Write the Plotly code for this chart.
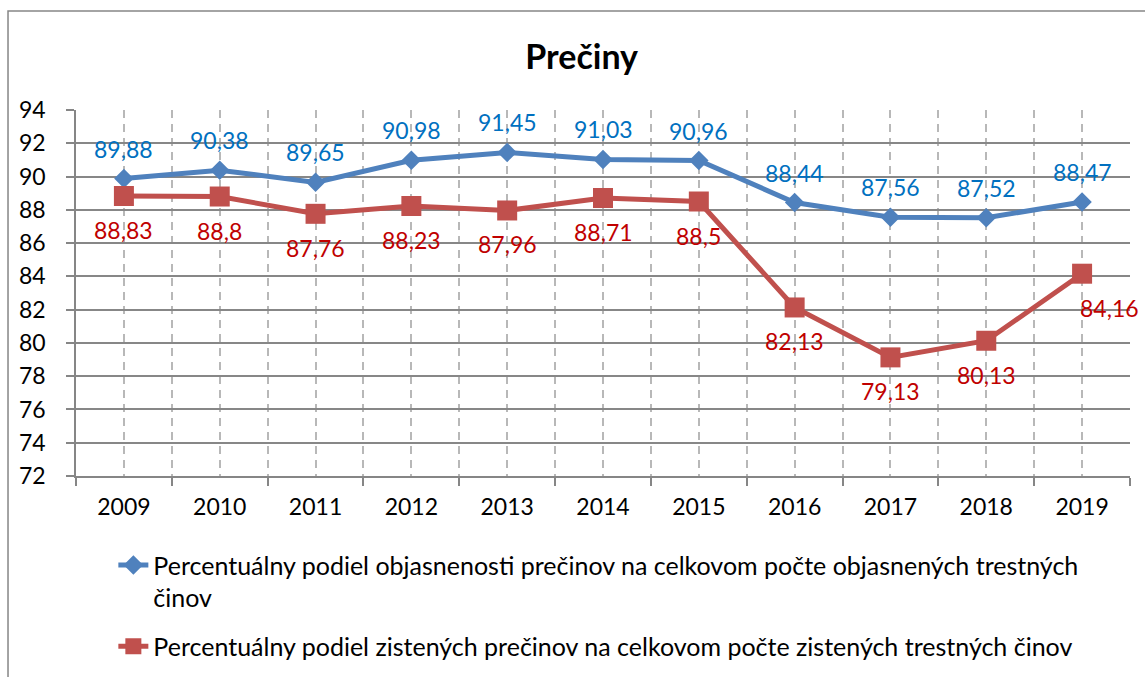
import plotly.graph_objects as go

years = [2009, 2010, 2011, 2012, 2013, 2014, 2015, 2016, 2017, 2018, 2019]
objasnene = [89.88, 90.38, 89.65, 90.98, 91.45, 91.03, 90.96, 88.44, 87.56, 87.52, 88.47]
zistene = [88.83, 88.8, 87.76, 88.23, 87.96, 88.71, 88.5, 82.13, 79.13, 80.13, 84.16]

name_obj = ("Percentuálny podiel objasnenosti prečinov na celkovom počte objasnených trestných"
            "<br>činov")
name_zis = "Percentuálny podiel zistených prečinov na celkovom počte zistených trestných činov"

BLUE = "#4F81BD"
RED = "#C0504D"
FONT = "Lato"


def fmt(v):
    return str(v).replace(".", ",")


fig = go.Figure()

fig.add_trace(go.Scatter(
    x=years, y=objasnene, mode="lines+markers", name=name_obj,
    line=dict(color=BLUE, width=5),
    marker=dict(symbol="diamond", size=15, color=BLUE),
    legend="legend",
))
fig.add_trace(go.Scatter(
    x=years, y=zistene, mode="lines+markers", name=name_zis,
    line=dict(color=RED, width=5),
    marker=dict(symbol="square", size=20, color=RED),
    legend="legend2",
))

# data labels: blue above, red below (last one nudged right like the original)
for i, (yr, v) in enumerate(zip(years, objasnene)):
    fig.add_annotation(x=yr, y=v, text=fmt(v), showarrow=False, yshift=30,
                       font=dict(family=FONT, size=23, color="#0070C0"))
for i, (yr, v) in enumerate(zip(years, zistene)):
    last = i == len(years) - 1
    fig.add_annotation(x=yr, y=v, text=fmt(v), showarrow=False, yshift=-34,
                       xshift=27 if last else 0,
                       font=dict(family=FONT, size=23, color="#C00000"))

# outer chart frame
fig.add_shape(type="rect", xref="paper", yref="paper",
              x0=-0.0645, x1=1.2, y0=-0.7, y1=1.2705,
              line=dict(color="#868686", width=1.5), layer="below")

fig.update_layout(
    width=1145, height=677,
    margin=dict(l=76, r=15, t=110, b=201, autoexpand=False),
    paper_bgcolor="white", plot_bgcolor="white",
    font=dict(family=FONT, size=23, color="black"),
    title=dict(text="<b>Prečiny</b>", x=0.508, xanchor="center", y=0.915, yanchor="middle",
               font=dict(family=FONT, size=34, color="black")),
    legend=dict(xref="container", yref="container", x=0.099, xanchor="left",
                y=0.199, yanchor="top", valign="top",
                bgcolor="rgba(0,0,0,0)", font=dict(family=FONT, size=25)),
    legend2=dict(xref="container", yref="container", x=0.099, xanchor="left",
                 y=0.079, yanchor="top", valign="top",
                 bgcolor="rgba(0,0,0,0)", font=dict(family=FONT, size=25)),
    showlegend=True,
)

fig.update_xaxes(
    range=[2008.5, 2019.5], tickmode="array", tickvals=years,
    ticktext=[str(y) for y in years], ticks="",
    showgrid=True, gridcolor="#B8B8B8", gridwidth=1.5, griddash="8px,6px",
    showline=True, linecolor="#868686", linewidth=1.5,
    minor=dict(tick0=2008.5, dtick=1, ticks="outside", ticklen=8, tickcolor="#868686",
               tickwidth=1.5, showgrid=True, gridcolor="#B8B8B8", gridwidth=1.5,
               griddash="8px,6px"),
    ticklabelstandoff=10, zeroline=False, automargin=False,
)
fig.update_yaxes(
    range=[72, 94], dtick=2, tick0=72,
    showgrid=True, gridcolor="#878787", gridwidth=1.5,
    showline=True, linecolor="#868686", linewidth=1.5,
    ticks="outside", ticklen=8, tickcolor="#868686", tickwidth=1.5,
    ticklabelstandoff=16, zeroline=False, automargin=False,
)

# drop the default 8px page margin so the chart sits at the window's corner
fig.write_html("out.html", config={"displayModeBar": False},
               post_script="document.body.style.margin='0';")
